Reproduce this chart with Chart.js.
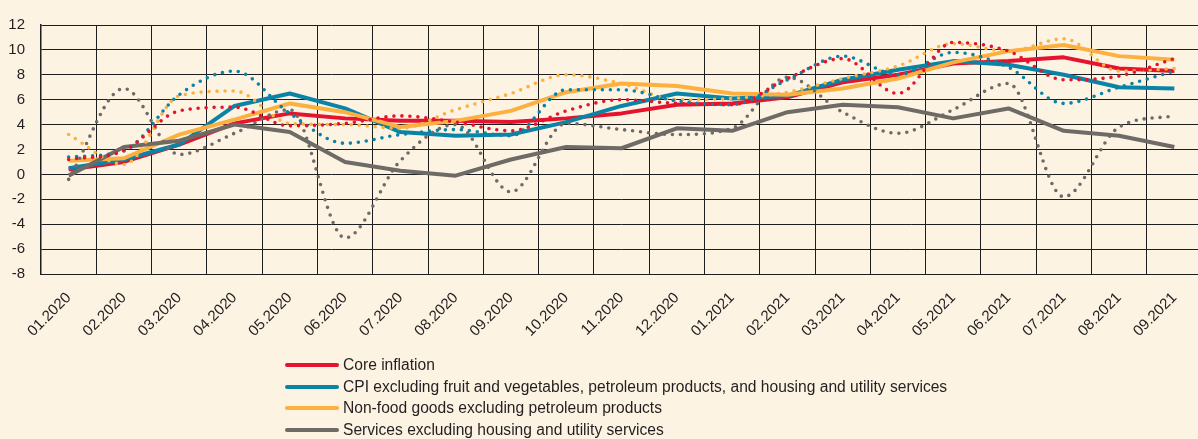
<!DOCTYPE html>
<html lang="en">
<head>
    <meta charset="UTF-8">
    <title>Core inflation indicators</title>
    <script src="https://cdn.jsdelivr.net/npm/chart.js"></script>
    <style>
        html, body { margin: 0; padding: 0; }
        body {
            width: 1198px; height: 439px; overflow: hidden; position: relative;
            background: #fdf3e3;
            font-family: "Liberation Sans", Arial, sans-serif;
        }
        #chart { position: absolute; left: 0; top: 0; }
        #legend { position: absolute; left: 285px; top: 354px; }
        .legend-row { height: 21.7px; display: flex; align-items: center; }
        .legend-line { width: 54px; height: 4px; border-radius: 2px; margin-right: 4px; }
        .legend-text { font-size: 15.6px; color: #231f20; white-space: nowrap; line-height: 1; }
    </style>
</head>
<body>
    <canvas id="chart" width="1206" height="439"></canvas>
    <div id="legend"></div>

    <script>
    // months on the x axis
    const months = ['01.2020', '02.2020', '03.2020', '04.2020', '05.2020', '06.2020', '07.2020',
        '08.2020', '09.2020', '10.2020', '11.2020', '12.2020', '01.2021', '02.2021', '03.2021',
        '04.2021', '05.2021', '06.2021', '07.2021', '08.2021', '09.2021'];

    const seriesNames = [
        'Core inflation',
        'CPI excluding fruit and vegetables, petroleum products, and housing and utility services',
        'Non-food goods excluding petroleum products',
        'Services excluding housing and utility services'
    ];
    const seriesColors = ['#e5132e', '#0a84a6', '#fbb040', '#6e6b67'];

    // solid lines
    const coreInflation = [0.4, 1.0, 2.4, 4.1, 4.9, 4.5, 4.3, 4.3, 4.2, 4.5, 4.9, 5.6, 5.7, 6.2, 7.4, 8.0, 8.9, 9.1, 9.4, 8.5, 8.3];
    const cpiExcl = [0.5, 1.2, 2.4, 5.5, 6.5, 5.3, 3.4, 3.1, 3.2, 4.2, 5.5, 6.5, 6.1, 6.3, 7.6, 8.4, 9.1, 8.8, 8.0, 7.0, 6.9];
    const nonFood = [1.1, 1.3, 3.2, 4.4, 5.7, 5.0, 3.8, 4.3, 5.1, 6.6, 7.3, 7.1, 6.5, 6.4, 6.9, 7.7, 9.0, 9.9, 10.4, 9.5, 9.2];
    const services = [-0.1, 2.2, 2.7, 4.0, 3.4, 1.0, 0.3, -0.1, 1.2, 2.2, 2.1, 3.7, 3.5, 5.0, 5.6, 5.4, 4.5, 5.3, 3.5, 3.1, 2.2];

    // dotted lines
    const coreInflationDot = [1.2, 1.9, 5.1, 5.4, 3.9, 4.1, 4.7, 4.2, 3.5, 5.1, 6.0, 5.7, 5.6, 7.7, 9.3, 6.5, 10.6, 9.9, 7.6, 7.9, 9.3];
    const cpiExclDot = [1.4, 1.9, 6.4, 8.3, 4.9, 2.5, 3.2, 3.6, 3.1, 6.8, 6.8, 5.9, 5.6, 7.6, 9.5, 8.0, 9.8, 8.6, 5.7, 7.0, 8.3];
    const nonFoodDot = [3.2, 0.8, 6.3, 6.7, 4.1, 4.0, 3.7, 5.2, 6.5, 8.0, 7.3, 6.0, 6.1, 6.6, 7.7, 8.7, 10.5, 9.9, 10.9, 8.3, 8.5];
    const servicesDot = [-0.4, 6.9, 1.6, 3.3, 5.2, -5.1, 1.1, 4.0, -1.4, 4.1, 3.6, 3.2, 3.7, 7.8, 5.0, 3.3, 5.2, 7.3, -1.8, 3.8, 4.7];

    // y axis
    const yMin = -8;
    const yMax = 12;
    const yStep = 2;

    const solidData = [coreInflation, cpiExcl, nonFood, services];
    const dotData = [coreInflationDot, cpiExclDot, nonFoodDot, servicesDot];

    const gridColor = '#1e1e1e';
    const textColor = '#231f20';
    const tickFont = { family: '"Liberation Sans", Arial', size: 15 };

    const datasets = [];
    dotData.forEach((d, i) => {
        datasets.push({
            label: seriesNames[i] + ' (monthly)',
            data: d,
            borderColor: seriesColors[i],
            borderWidth: 3.6,
            borderDash: [0, 8],
            borderCapStyle: 'round',
            cubicInterpolationMode: 'monotone',
            pointRadius: 0,
            fill: false,
            order: 1 + i
        });
    });
    solidData.forEach((d, i) => {
        datasets.push({
            label: seriesNames[i],
            data: d,
            borderColor: seriesColors[i],
            borderWidth: 4,
            borderJoinStyle: 'round',
            tension: 0,
            pointRadius: 0,
            fill: false,
            order: 9 - i
        });
    });

    new Chart(document.getElementById('chart'), {
        type: 'line',
        data: { labels: months, datasets: datasets },
        options: {
            responsive: false,
            animation: false,
            layout: { padding: { top: 19, right: 4, left: 0, bottom: 0 } },
            plugins: {
                legend: { display: false },
                tooltip: { enabled: false }
            },
            scales: {
                x: {
                    offset: true,
                    grid: { offset: true, color: gridColor, lineWidth: 1, drawTicks: false },
                    border: { color: gridColor, width: 1 },
                    ticks: {
                        autoSkip: false,
                        maxRotation: 45,
                        minRotation: 45,
                        padding: 15,
                        color: textColor,
                        font: tickFont
                    },
                    afterFit: function(scale) { scale.height = 439 - 274; }
                },
                y: {
                    min: yMin,
                    max: yMax,
                    grid: { color: gridColor, lineWidth: 1, drawTicks: false },
                    border: { color: gridColor, width: 1.5 },
                    ticks: {
                        stepSize: yStep,
                        padding: 16,
                        color: textColor,
                        font: tickFont
                    },
                    afterFit: function(scale) { scale.width = 41; }
                }
            }
        }
    });

    // legend (solid series only)
    const legend = document.getElementById('legend');
    legend.innerHTML = seriesNames.map((name, i) => `
        <div class="legend-row">
            <div class="legend-line" style="background:${seriesColors[i]}"></div>
            <div class="legend-text">${name}</div>
        </div>`).join('');
    </script>
</body>
</html>
